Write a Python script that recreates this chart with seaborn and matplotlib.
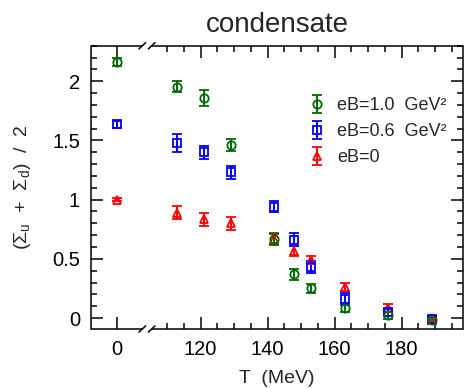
import matplotlib
matplotlib.use("Agg")
import matplotlib.pyplot as plt
import matplotlib.transforms as mtransforms
import numpy as np
import pandas as pd
import seaborn as sns

# ---- data ----
T_vals = [0, 113, 121, 129, 142, 148, 153, 163, 176, 189]
eB10 = [2.16, 1.955, 1.86, 1.465, 0.665, 0.37, 0.25, 0.087, 0.025, -0.02]
eB10_err = [0.035, 0.045, 0.07, 0.05, 0.045, 0.045, 0.04, 0.04, 0.03, 0.03]
eB06 = [1.635, 1.48, 1.40, 1.23, 0.94, 0.66, 0.43, 0.16, 0.05, -0.01]
eB06_err = [0.03, 0.075, 0.055, 0.055, 0.045, 0.055, 0.05, 0.05, 0.03, 0.03]
eB0 = [1.0, 0.89, 0.835, 0.80, 0.67, 0.565, 0.49, 0.26, 0.085, 0.0]
eB0_err = [0.01, 0.055, 0.055, 0.055, 0.045, 0.04, 0.035, 0.035, 0.03, 0.02]

series_labels = ["eB=1.0  GeV²", "eB=0.6  GeV²", "eB=0"]
x_tick_labels = ["0", "120", "140", "160", "180"]
x_tick_T = [0, 120, 140, 160, 180]
y_tick_vals = [0, 0.5, 1, 1.5, 2]
y_tick_labels = ["0", "0.5", "1", "1.5", "2"]

# broken axis: T=0 shown at axis position ZERO_POS
ZERO_POS = 95.0
def pos(t):
    return ZERO_POS + t if t < 50 else t

df = pd.concat([
    pd.DataFrame({"T": T_vals, "val": eB10, "err": eB10_err, "series": series_labels[0]}),
    pd.DataFrame({"T": T_vals, "val": eB06, "err": eB06_err, "series": series_labels[1]}),
    pd.DataFrame({"T": T_vals, "val": eB0, "err": eB0_err, "series": series_labels[2]}),
])
df["x"] = df["T"].map(pos)

sns.set_style("ticks")
plt.rcParams["font.family"] = ["Liberation Sans", "DejaVu Sans"]
plt.rcParams["mathtext.fontset"] = "custom"
plt.rcParams["mathtext.rm"] = "Liberation Sans"
plt.rcParams["mathtext.it"] = "Liberation Sans"

fig = plt.figure(figsize=(4.65, 3.88), dpi=100)
ax = fig.add_axes([0.1957, 0.152, 0.80, 0.730])

colors = {series_labels[0]: "#006a00", series_labels[1]: "#0000ff", series_labels[2]: "#ff0000"}
markers = {series_labels[0]: "o", series_labels[1]: "s", series_labels[2]: "^"}

handles = {}
for lab in [series_labels[2], series_labels[1], series_labels[0]]:
    d = df[df["series"] == lab]
    h = ax.errorbar(d["x"], d["val"], yerr=d["err"], fmt=markers[lab], color=colors[lab],
                    mfc="none", mec=colors[lab], ms=6, mew=1.3, elinewidth=1.4,
                    capsize=3.8, capthick=1.7, label=lab)
    handles[lab] = h

ax.set_xlim(87.3, 198.3)
ax.set_ylim(-0.093, 2.30)

ax.set_xticks([pos(t) for t in x_tick_T])
ax.set_xticklabels(x_tick_labels)
ax.set_xticks([pos(0)] + list(np.arange(110, 200, 5)), minor=True)
ax.set_yticks(y_tick_vals)
ax.set_yticklabels(y_tick_labels)
ax.set_yticks(np.arange(-0.0, 2.31, 0.1), minor=True)

ax.tick_params(which="both", direction="in", top=True, right=True, width=1.1, colors="black",
               labelsize=14.5, pad=8)
ax.tick_params(which="major", length=8.5)
ax.tick_params(which="minor", length=4.3)

for s in ["left", "right"]:
    ax.spines[s].set_linewidth(1.1)
    ax.spines[s].set_color("black")
ax.spines["top"].set_visible(False)
ax.spines["bottom"].set_visible(False)

# broken horizontal spines
trans = mtransforms.blended_transform_factory(ax.transData, ax.transAxes)
b1, b2 = 102.6, 105.4
for yy in [0, 1]:
    ax.plot([87.3, b1], [yy, yy], transform=trans, color="black", lw=1.1, clip_on=False,
            solid_capstyle="butt")
    ax.plot([b2, 198.3], [yy, yy], transform=trans, color="black", lw=1.1, clip_on=False,
            solid_capstyle="butt")
    for bx in [b1, b2]:
        ax.plot([bx - 1.0, bx + 1.0], [yy - 0.011, yy + 0.011], transform=trans,
                color="black", lw=1.1, clip_on=False)

ax.set_title("condensate", fontsize=20, pad=10)
ax.set_xlabel("T  (MeV)", fontsize=14, labelpad=8)
ax.set_ylabel(r"(Σ$\mathregular{_u}$  +  Σ$\mathregular{_d}$)  /  2", fontsize=14, labelpad=14)

leg = ax.legend([handles[l] for l in series_labels], series_labels,
                loc="upper left", bbox_to_anchor=(0.54, 0.875), frameon=False,
                fontsize=13, handlelength=1.0, handletextpad=0.6, labelspacing=0.5)

fig.savefig("out.png", dpi=100)
